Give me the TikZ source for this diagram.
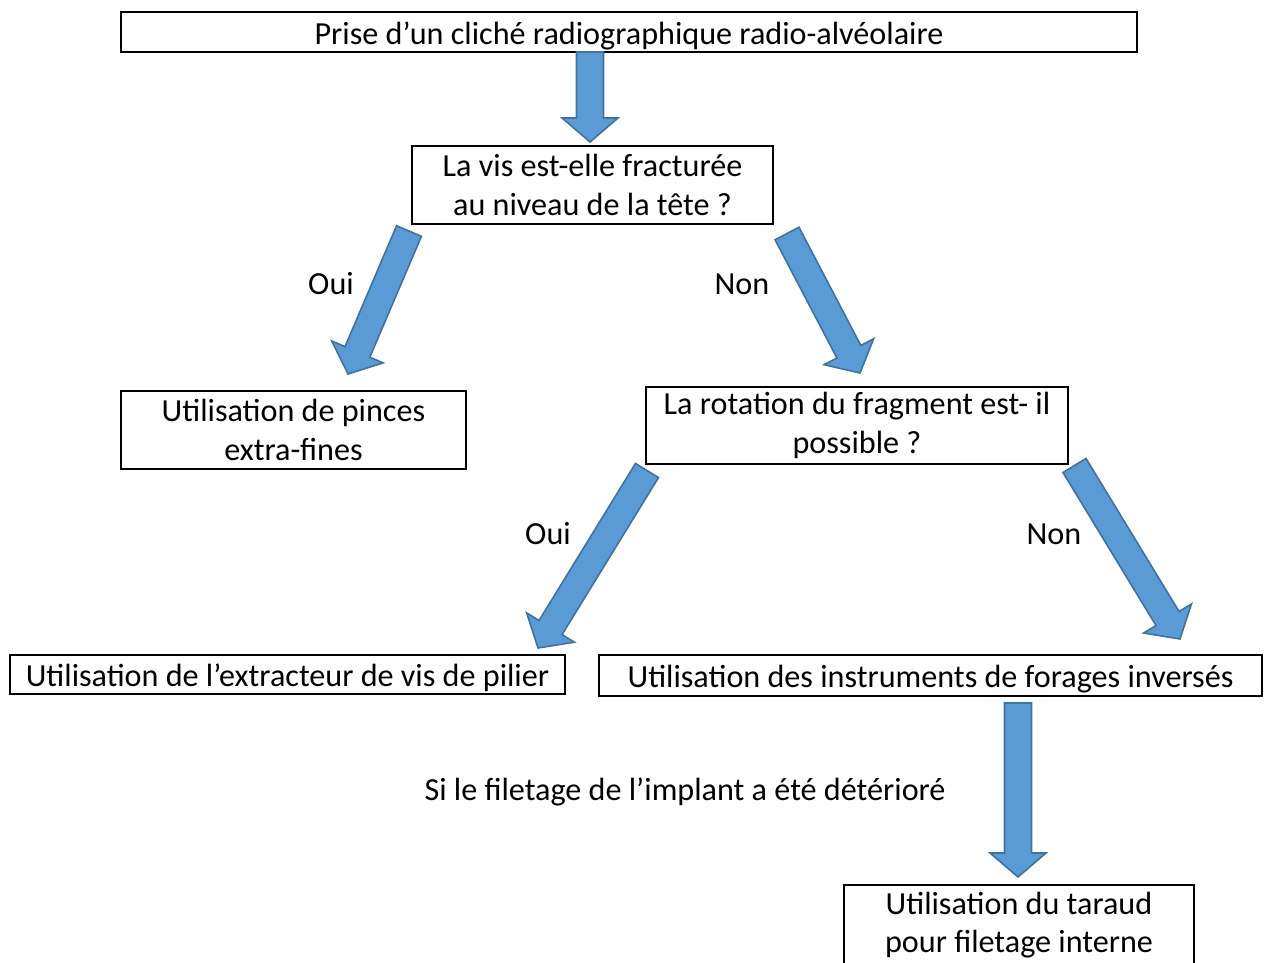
\documentclass[tikz,border=0pt]{standalone}
\usepackage{fontspec}
\setmainfont{Carlito}
\usepackage{xcolor}
\usetikzlibrary{calc}
\definecolor{arrowfill}{RGB}{91,155,213}
\definecolor{arrowline}{RGB}{65,113,156}
\tikzset{
  stepbox/.style={draw=black,line width=1.1pt,fill=white,align=center,
    inner sep=2pt,font=\fontsize{18.3}{22}\selectfont},
  answer/.style={font=\fontsize{18.3}{22}\selectfont,align=center},
  blockarrow/.style={fill=arrowfill,draw=arrowline,line width=0.9pt,line join=miter}
}
% one-line box text sits a little lower
\newcommand{\lowtext}[1]{\raisebox{-0.07cm}[\height][\depth]{#1}}
% block arrow from tail coordinate #1 to tip coordinate #2
\newcommand{\blockarrow}[2]{%
  \path ($(#2)!0.48cm!(#1)$) coordinate (neck);
  \draw[blockarrow] ($(#1)!0.27cm!90:(#2)$) -- ($(neck)!0.27cm!90:(#2)$)
    -- ($(neck)!0.56cm!90:(#2)$) -- (#2) -- ($(neck)!0.56cm!-90:(#2)$)
    -- ($(neck)!0.27cm!-90:(#2)$) -- ($(#1)!0.27cm!-90:(#2)$) -- cycle;}

\begin{document}
\begin{tikzpicture}
  \useasboundingbox (0,0) rectangle (25.34,-19.26);
  \node[stepbox,minimum width=20.32cm,minimum height=0.80cm] (prise) at (12.58,-0.64)
    {\lowtext{Prise d’un cliché radiographique radio-alvéolaire}};
  \node[stepbox,minimum width=7.22cm,minimum height=1.56cm] (vis) at (11.85,-3.70)
    {La vis est-elle fracturée\\au niveau de la tête ?};
  \node[stepbox,minimum width=6.90cm,minimum height=1.56cm] (pinces) at (5.87,-8.60)
    {Utilisation de pinces\\extra-fines};
  \node[stepbox,minimum width=8.44cm,minimum height=1.54cm] (rotation) at (17.14,-8.51)
    {La rotation du fragment est- il\\possible ?};
  \node[stepbox,minimum width=11.10cm,minimum height=0.78cm] (extracteur) at (5.75,-13.49)
    {\lowtext{Utilisation de l’extracteur de vis de pilier}};
  \node[stepbox,minimum width=13.26cm,minimum height=0.82cm] (forages) at (18.61,-13.51)
    {\lowtext{Utilisation des instruments de forages inversés}};
  \node[stepbox,minimum width=7.00cm,minimum height=1.60cm] (taraud) at (20.38,-18.50)
    {Utilisation du taraud\\pour filetage interne};

  % arrow ends
  \coordinate (a1) at (11.80,-1.04);  \coordinate (b1) at (11.80,-2.84);
  \coordinate (a2) at (8.18,-4.62);   \coordinate (b2) at (6.96,-7.48);
  \coordinate (a3) at (15.74,-4.67);  \coordinate (b3) at (17.20,-7.46);
  \coordinate (a4) at (12.94,-9.41);  \coordinate (b4) at (10.76,-12.96);
  \coordinate (a5) at (21.49,-9.31);  \coordinate (b5) at (23.60,-12.78);
  \coordinate (a6) at (20.36,-14.06); \coordinate (b6) at (20.36,-17.54);

  \blockarrow{a1}{b1}
  \blockarrow{a2}{b2}
  \blockarrow{a3}{b3}
  \blockarrow{a4}{b4}
  \blockarrow{a5}{b5}
  \blockarrow{a6}{b6}

  \node[answer] (oui1) at (6.62,-5.68) {Oui};
  \node[answer] (non1) at (14.84,-5.68) {Non};
  \node[answer] (oui2) at (10.96,-10.68) {Oui};
  \node[answer] (non2) at (21.08,-10.68) {Non};
  \node[answer] (note) at (13.70,-15.84) {Si le filetage de l’implant a été détérioré};
\end{tikzpicture}
\end{document}
